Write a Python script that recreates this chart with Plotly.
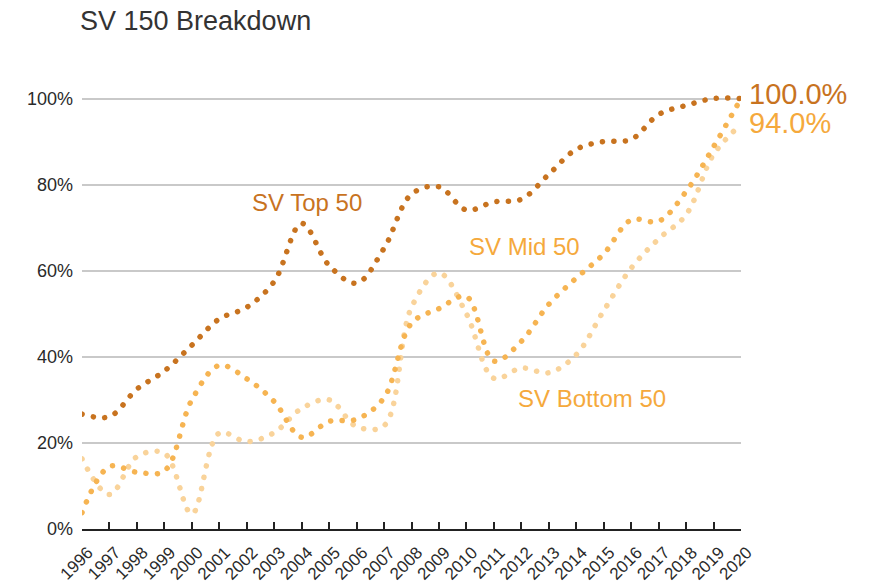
import plotly.graph_objects as go

# Share of each SV 150 tier, by year
years = list(range(1996, 2021))
top50 = [26.7, 26.1, 32.5, 36.7, 42.7, 48.8, 51.5, 57.5, 71.0, 61.2, 57.1, 65.2, 77.8,
         79.5, 74.1, 76.0, 76.6, 82.4, 88.2, 90.0, 90.5, 96.3, 98.4, 100.0, 100.0]
mid50 = [3.8, 14.5, 13.2, 13.5, 30.0, 38.0, 34.9, 29.6, 21.3, 25.0, 25.5, 30.5, 47.8,
         51.2, 54.0, 39.0, 43.6, 52.2, 58.3, 63.9, 71.8, 71.5, 78.4, 88.8, 100.0]
bottom50 = [16.3, 8.0, 16.8, 17.6, 3.5, 22.3, 20.3, 22.4, 28.0, 30.0, 23.8, 24.0, 51.5,
            59.5, 50.0, 35.0, 37.4, 36.3, 40.5, 50.7, 60.6, 67.4, 73.0, 87.0, 94.0]

series_names = ["SV Top 50", "SV Mid 50", "SV Bottom 50"]
x_tick_labels = [str(y) for y in years]
y_tick_values = [0, 20, 40, 60, 80, 100]
y_tick_labels = ["0%", "20%", "40%", "60%", "80%", "100%"]

FONT = "Liberation Sans, Arial, Helvetica, sans-serif"
C_TOP = "#c8731f"
C_MID = "#f6b452"
C_BOT = "#f9d39a"
C_MID_TXT = "#f5a93c"

fig = go.Figure()
for name, vals, col in [(series_names[2], bottom50, C_BOT),
                        (series_names[1], mid50, C_MID),
                        (series_names[0], top50, C_TOP)]:
    fig.add_trace(go.Scatter(
        x=years, y=vals, name=name, mode="lines",
        line=dict(color=col, width=5.5, shape="spline", smoothing=1,
                  dash="0.1px,11.4px"),
        cliponaxis=False, hoverinfo="skip",
    ))

# Series labels placed inside the plot
label_specs = [
    (series_names[0], 2004.18, 75.9, C_TOP),
    (series_names[1], 2012.12, 65.6, C_MID_TXT),
    (series_names[2], 2014.59, 30.4, C_MID_TXT),
]
for text, x, y, col in label_specs:
    fig.add_annotation(x=x, y=y, text=text, showarrow=False,
                       xanchor="center", yanchor="middle",
                       font=dict(family=FONT, size=24, color=col))

# End values at the right edge
fig.add_annotation(x=years[-1], y=top50[-1], text=f"{top50[-1]:.1f}%", showarrow=False,
                   xanchor="left", yanchor="middle", xshift=6, yshift=5,
                   font=dict(family=FONT, size=29, color=C_TOP))
fig.add_annotation(x=years[-1], y=bottom50[-1], text=f"{bottom50[-1]:.1f}%", showarrow=False,
                   xanchor="left", yanchor="middle", xshift=6, yshift=1,
                   font=dict(family=FONT, size=29, color=C_MID_TXT))

fig.update_layout(
    width=883, height=585, autosize=False,
    margin=dict(l=82, r=142, t=77, b=56),
    paper_bgcolor="white", plot_bgcolor="white",
    showlegend=False,
    font=dict(family=FONT, color="#2a2a2a"),
    title=dict(text="SV 150 Breakdown", xref="container", yref="container",
               x=80 / 883, xanchor="left", y=1 - 21 / 585, yanchor="middle",
               font=dict(family=FONT, size=27, color="#333333")),
)
fig.update_xaxes(
    range=[1996, 2020], tickmode="array", tickvals=years, ticktext=x_tick_labels,
    tickangle=-45, tickfont=dict(family=FONT, size=17, color="#2a2a2a"),
    ticklabelstandoff=5, ticklabelshift=6, automargin=False,
    showgrid=False, zeroline=False,
    showline=True, linecolor="#222222", linewidth=2,
    ticks="inside", ticklen=7, tickwidth=1.5, tickcolor="#222222",
)
fig.update_yaxes(
    range=[0, 105], tickmode="array", tickvals=y_tick_values, ticktext=y_tick_labels,
    tickfont=dict(family=FONT, size=18, color="#2a2a2a"), automargin=False,
    showgrid=True, gridcolor="#c9c9c9", gridwidth=1.5,
    zeroline=False, showline=False, ticks="", ticklabelstandoff=8,
)

# Round line caps turn the dash pattern into round dots
post = """
var gd = document.getElementById('{plot_id}');
function roundCaps(){
  gd.querySelectorAll('.scatterlayer .js-line').forEach(function(p){
    p.style.strokeLinecap = 'round';
  });
}
roundCaps();
gd.on('plotly_afterplot', roundCaps);
"""
fig.write_html("out.html", post_script=post)
